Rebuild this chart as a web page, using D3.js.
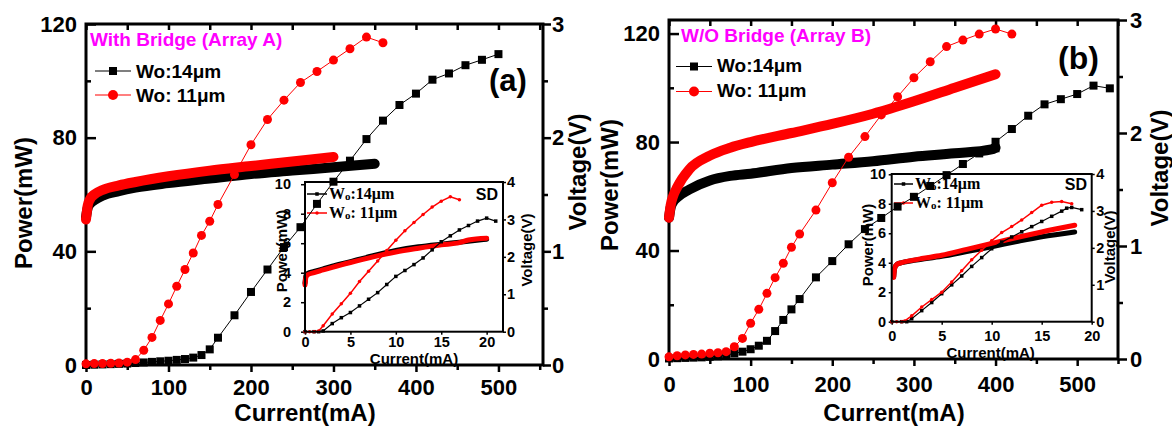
<!DOCTYPE html>
<html>
<head>
<meta charset="utf-8">
<script src="https://cdn.jsdelivr.net/npm/d3@7"></script>
<style>
body { margin: 0; background: #fff; }
svg { display: block; font-family: Arial, "Liberation Sans", sans-serif; font-weight: bold; }
</style>
</head>
<body>
<svg width="1172" height="428"></svg>
<script>
// ---- panel (a): with bridge, main L-I-V (current mA, power mW, voltage V)
var iA14 = [0,10,20,30,40,50,60,70,80,90,100,110,120,130,140,150,160,180,200,220,240,260,280,300,320,340,360,380,400,420,440,460,480,500];
var pA14 = [0,0.1,0.2,0.3,0.4,0.5,0.7,0.9,1.1,1.3,1.5,1.8,2.1,2.6,3.5,5.5,9.6,17.5,25.7,33.6,41.5,48.5,56.7,64.5,71.9,79.5,86,91.5,95.5,100.4,102.6,105.5,107.4,109.4];
var iA11 = [0,10,20,30,40,50,60,70,80,90,100,110,120,130,140,150,160,180,200,220,240,260,280,300,320,340,360];
var pA11 = [0.4,0.5,0.5,0.6,0.7,1.0,1.9,5.2,9.7,15.7,21.5,27.7,33.6,39.4,45.6,50.6,56.5,67,77.5,86.4,93.2,99.4,103.3,107.3,111.3,115.4,113.4];
var viA14 = [0,2,5,10,20,40,60,100,150,200,250,300,350];
var vA14  = [1.30,1.38,1.42,1.45,1.49,1.53,1.56,1.60,1.64,1.68,1.71,1.74,1.77];
var viA11 = [0,2,5,10,20,40,60,100,150,200,250,300];
var vA11  = [1.28,1.40,1.46,1.50,1.54,1.58,1.61,1.66,1.71,1.75,1.79,1.83];

// inset (a): single device (SD)
var sdiA14 = [0,1,1.5,2,3,4,5,6,7,8,9,10,11,12,13,14,15,16,17,18,19,20,21];
var sdpA14 = [0,0,0,0.05,0.55,0.95,1.3,1.75,2.2,2.65,3.2,3.75,4.15,4.55,5.0,5.55,6.1,6.5,6.9,7.2,7.5,7.7,7.5];
var sdiA11 = [0,0.5,1,1.5,2,3,4,5,6,7,8,9,10,11,12,13,14,15,16,17];
var sdpA11 = [0,0,0,0.05,0.4,1.2,1.9,2.6,3.4,4.1,4.8,5.5,6.2,6.85,7.4,7.95,8.45,8.85,9.15,8.95];
var sdviA14 = [0,0.1,0.3,1,2,3,5,7.5,10,12.5,15,17,20];
var sdvA14  = [1.3,1.5,1.56,1.61,1.68,1.75,1.87,2.03,2.17,2.27,2.34,2.39,2.47];
var sdviA11 = [0,0.1,0.3,1,2,3,5,7.5,10,12.5,15,17,18,20];
var sdvA11  = [1.25,1.45,1.52,1.58,1.65,1.72,1.85,2.0,2.13,2.23,2.32,2.38,2.45,2.5];

// ---- panel (b): without bridge
var iB14 = [0,10,20,30,40,50,60,70,80,90,100,110,120,130,140,150,160,180,200,220,240,260,280,300,320,340,360,380,400,400,420,440,460,480,500,520,540];
var pB14 = [0.2,0.3,0.4,0.5,0.6,0.8,1.0,1.4,2.1,2.7,3.6,4.9,6.7,10.3,14.4,18.3,22.1,30.1,36.1,42.3,47.9,52,56.2,59.8,63.8,67.8,71.9,75.8,77.7,80.1,84.8,89.7,93.9,95.8,97.7,100.8,99.8];
var iB11 = [0,10,20,30,40,50,60,70,80,90,100,110,120,130,140,150,160,180,200,220,240,260,280,300,320,340,360,380,400,420];
var pB11 = [0.8,1.2,1.5,1.7,1.8,2.1,2.3,2.7,4.5,7.6,13.2,18.3,24.2,30,35.3,41.2,46.1,54.9,65,74.4,82,90,96.7,103.7,109.6,115.2,117.6,119.8,121.7,119.8];
var viB14 = [0,2,5,10,25,50,75,100,150,200,250,300,350,395,400];
var vB14  = [1.25,1.34,1.39,1.43,1.50,1.58,1.62,1.64,1.69,1.72,1.75,1.79,1.82,1.855,1.87];
var viB11 = [0,2,5,10,25,50,75,100,150,200,250,300,350,400];
var vB11  = [1.25,1.36,1.44,1.52,1.68,1.80,1.87,1.92,2.00,2.08,2.17,2.28,2.40,2.52];

var sdiB14 = [0,1,1.5,2,3,4,5,6,7,8,9,10,11,12,13,14,15,16,17,17.5,18,19];
var sdpB14 = [0,0,0,0.2,0.75,1.3,1.9,2.5,3.1,3.75,4.35,4.95,5.4,5.75,6.1,6.45,6.8,7.15,7.5,7.7,7.75,7.6];
var sdiB11 = [0,0.5,1,1.3,2,3,4,5,6,7,8,9,10,11,12,13,14,15,16,17,18];
var sdpB11 = [0,0,0,0.05,0.4,1.0,1.5,2.0,2.7,3.45,4.2,4.85,5.5,6.05,6.45,6.9,7.4,7.9,8.1,8.15,8.0];
var sdviB14 = [0.2,0.3,0.5,1,2,3,5,7.5,10,12.5,15,18.3];
var sdvB14  = [1.22,1.45,1.55,1.6,1.65,1.69,1.77,1.9,2.03,2.17,2.3,2.43];
var sdviB11 = [0.2,0.3,0.5,1,2,3,5,7.5,10,12.5,15,18.3];
var sdvB11  = [1.2,1.45,1.55,1.6,1.66,1.71,1.8,1.96,2.12,2.28,2.43,2.61];

// ticks
var powerTicks = [0,40,80,120], powerMinor = [20,60,100];
var voltTicks = [0,1,2,3], voltMinor = [0.5,1.5,2.5];
var currentTicks = [0,100,200,300,400,500], currentMinor = [50,150,250,350,450,550];
var sdPowerTicks = [0,2,4,6,8,10], sdVoltTicks = [0,1,2,3,4];
var sdCurrentTicks = [0,5,10,15,20];

var RED = "#ff0000", MAGENTA = "#ff00ff";
var svg = d3.select("svg");
var fmt = d3.format("d");

function axis(g, gen, tx, ty, sw, fs) {
  var a = g.append("g").attr("transform", "translate(" + tx + "," + ty + ")").call(gen);
  a.select(".domain").remove();
  a.attr("font-family", null).attr("font-size", null);
  a.selectAll("line").attr("stroke", "#000").attr("stroke-width", sw);
  a.selectAll("text").attr("fill", "#000").style("font-size", fs + "px");
  return a;
}

function band(g, x, y, xs, ys, color, w) {
  g.append("path")
    .datum(d3.zip(xs, ys))
    .attr("fill", "none").attr("stroke", color).attr("stroke-width", w)
    .attr("stroke-linecap", "round").attr("stroke-linejoin", "round")
    .attr("d", d3.line().curve(d3.curveMonotoneX).x(function(d) { return x(d[0]); }).y(function(d) { return y(d[1]); }));
}

function series(g, x, y, xs, ys, color, shape, s, lw) {
  var pts = d3.zip(xs, ys);
  g.append("path").datum(pts)
    .attr("fill", "none").attr("stroke", color).attr("stroke-width", lw)
    .attr("d", d3.line().x(function(d) { return x(d[0]); }).y(function(d) { return y(d[1]); }));
  marker(g, pts.map(function(d) { return [x(d[0]), y(d[1])]; }), color, shape, s);
}

function marker(g, pts, color, shape, s) {
  if (shape == "square") {
    g.selectAll(null).data(pts).enter().append("rect")
      .attr("x", function(d) { return d[0] - s / 2; }).attr("y", function(d) { return d[1] - s / 2; })
      .attr("width", s).attr("height", s).attr("fill", color);
  } else {
    g.selectAll(null).data(pts).enter().append("circle")
      .attr("cx", function(d) { return d[0]; }).attr("cy", function(d) { return d[1]; })
      .attr("r", s / 2).attr("fill", color);
  }
}

function vtext(g, txt, bx, cy, fs) {
  g.append("text").attr("transform", "translate(" + bx + "," + cy + ") rotate(-90)")
    .attr("text-anchor", "middle").style("font-size", fs + "px").text(txt);
}

function inset(p, d) {
  var g = svg.append("g");
  var x = d3.scaleLinear().domain([0, p.iMax]).range([p.left, p.right]);
  var yP = d3.scaleLinear().domain([0, p.pMax]).range([p.bottom, p.top]);
  var yV = d3.scaleLinear().domain([0, 4]).range([p.bottom, p.top]);

  axis(g, d3.axisLeft(yP).tickValues(sdPowerTicks).tickSize(p.tl).tickPadding(p.pl).tickFormat(fmt), p.left, 0, 1.5, 14.5);
  axis(g, d3.axisRight(yV).tickValues(sdVoltTicks).tickSize(3).tickPadding(p.pr).tickFormat(fmt), p.right, 0, 1.5, 14.5);
  axis(g, d3.axisBottom(x).tickValues(sdCurrentTicks).tickSize(3).tickPadding(p.pb).tickFormat(fmt), 0, p.bottom, 1.5, 14.5);

  band(g, x, yV, d.vi14, d.v14, "#000", 5);
  band(g, x, yV, d.vi11, d.v11, RED, 5);
  series(g, x, yP, d.i14, d.p14, "#000", "square", 3.5, 1.2);
  series(g, x, yP, d.i11, d.p11, RED, "circle", 3.5, 1.5);

  g.append("rect").attr("x", p.left).attr("y", p.top)
    .attr("width", p.right - p.left).attr("height", p.bottom - p.top)
    .attr("fill", "none").attr("stroke", "#000").attr("stroke-width", 2);

  g.append("text").attr("x", p.sdX).attr("y", p.sdY).attr("text-anchor", "end").style("font-size", "16px").text("SD");
  g.append("text").attr("x", (p.left + p.right) / 2 + p.xlDx).attr("y", p.xlY).attr("text-anchor", "middle").style("font-size", "15px").text("Current(mA)");
  vtext(g, "Power(mW)", p.plX, p.plY, 15);
  vtext(g, "Voltage(V)", p.vlX, p.vlY, 15);

  // legend
  [["#000", "square", ":14μm"], [RED, "circle", ": 11μm"]].forEach(function(l, k) {
    var ly = p.legY[k];
    g.append("line").attr("x1", p.legX[0]).attr("x2", p.legX[1]).attr("y1", ly - 5).attr("y2", ly - 5)
      .attr("stroke", l[0]).attr("stroke-width", 1.5);
    marker(g, [[(p.legX[0] + p.legX[1]) / 2, ly - 5]], l[0], l[1], 3.5);
    var t = g.append("text").attr("x", p.legX[1] + 2).attr("y", ly)
      .style("font-family", "'Liberation Serif', 'Times New Roman', serif").style("font-size", "16px");
    t.append("tspan").text("W");
    t.append("tspan").style("font-size", "11px").attr("dy", 1).text("o");
    t.append("tspan").attr("dy", -1).text(l[2]);
  });
}

function panel(p, d, sd) {
  var g = svg.append("g");
  var x = d3.scaleLinear().domain([0, p.iMax]).range([p.left, p.right]);
  var yP = d3.scaleLinear().domain([0, p.pMax]).range([p.bottom, p.top]);
  var yV = d3.scaleLinear().domain([0, 3]).range([p.bottom, p.top]);

  axis(g, d3.axisLeft(yP).tickValues(powerMinor).tickSize(-5).tickFormat(""), p.left, 0, 2.5, 22);
  axis(g, d3.axisLeft(yP).tickValues(powerTicks).tickSize(-10).tickPadding(9).tickFormat(fmt), p.left, 0, 2.5, 22);
  axis(g, d3.axisRight(yV).tickValues(voltMinor).tickSize(5).tickFormat(""), p.right, 0, 2.5, 22);
  axis(g, d3.axisRight(yV).tickValues(voltTicks).tickSize(p.tr).tickPadding(p.pr).tickFormat(fmt), p.right, 0, 2.5, 22);
  axis(g, d3.axisBottom(x).tickValues(currentMinor).tickSize(5).tickFormat(""), 0, p.bottom, 2.5, 22);
  axis(g, d3.axisBottom(x).tickValues(currentTicks).tickSize(7).tickPadding(p.pb).tickFormat(fmt), 0, p.bottom, 2.5, 22);
  axis(g, d3.axisTop(x).tickValues(currentMinor.concat(currentTicks)).tickSize(-6).tickFormat(""), 0, p.top, 2.5, 22);

  g.append("rect").attr("x", p.left).attr("y", p.top)
    .attr("width", p.right - p.left).attr("height", p.bottom - p.top)
    .attr("fill", "none").attr("stroke", "#000").attr("stroke-width", 3);

  g.append("text").attr("x", p.xlX).attr("y", 421).attr("text-anchor", "middle").style("font-size", "24px").text("Current(mA)");
  vtext(g, "Power(mW)", p.plX, p.plY, 24);
  vtext(g, "Voltage(V)", p.vlX, p.vlY, 24);

  inset(p.inset, sd);

  var gd = svg.append("g");
  band(gd, x, yV, d.vi14, d.v14, "#000", 10);
  band(gd, x, yV, d.vi11, d.v11, RED, 10);
  series(gd, x, yP, d.i14, d.p14, "#000", "square", 8, 1);
  series(gd, x, yP, d.i11, d.p11, RED, "circle", 9, 1);

  gd.append("text").attr("x", p.titleX).attr("y", p.titleY).attr("fill", MAGENTA).style("font-size", "19px").text(p.title);
  gd.append("text").attr("x", p.tagX).attr("y", p.tagY).style("font-size", p.tagSize + "px").text(p.tag);

  [["#000", "square", 8, "Wo:14μm"], [RED, "circle", 10, "Wo: 11μm"]].forEach(function(l, k) {
    var ly = p.legY[k];
    gd.append("line").attr("x1", p.legX[0]).attr("x2", p.legX[1]).attr("y1", ly - p.legOff).attr("y2", ly - p.legOff)
      .attr("stroke", l[0]).attr("stroke-width", 1.2);
    marker(gd, [[(p.legX[0] + p.legX[1]) / 2, ly - p.legOff]], l[0], l[1], l[2]);
    gd.append("text").attr("x", p.legX[1] + 5).attr("y", ly).style("font-size", "19px").text(l[3]);
  });
}

panel({
  left: 86, right: 543, top: 24, bottom: 365, iMax: 554, pMax: 120,
  tr: 8, pr: 1, pb: 7.4,
  xlX: 305, plX: 32, plY: 203, vlX: 586, vlY: 172,
  title: "With Bridge (Array A)", titleX: 90, titleY: 46,
  tag: "(a)", tagX: 489, tagY: 91, tagSize: 31,
  legX: [95, 131], legY: [78, 102], legOff: 7,
  inset: { left: 305, right: 503, top: 182, bottom: 331.7, iMax: 21.8, pMax: 10.15,
    tl: 4, pl: 10, pr: 1, pb: 2.5, sdX: 498, sdY: 200, xlDx: 10, xlY: 364,
    plX: 287, plY: 251, vlX: 532, vlY: 250, legX: [307, 327], legY: [199, 218] }
}, { i14: iA14, p14: pA14, i11: iA11, p11: pA11, vi14: viA14, v14: vA14, vi11: viA11, v11: vA11 },
   { i14: sdiA14, p14: sdpA14, i11: sdiA11, p11: sdpA11, vi14: sdviA14, v14: sdvA14, vi11: sdviA11, v11: sdvA11 });

panel({
  left: 669, right: 1118, top: 20, bottom: 359, iMax: 550, pMax: 125,
  tr: 9, pr: 3, pb: 10.4,
  xlX: 894, plX: 618, plY: 185, vlX: 1168, vlY: 168,
  title: "W/O Bridge (Array B)", titleX: 681, titleY: 42,
  tag: "(b)", tagX: 1058, tagY: 69, tagSize: 32,
  legX: [676, 712], legY: [72, 97], legOff: 5.5,
  inset: { left: 891.7, right: 1091.7, top: 174, bottom: 321.7, iMax: 20, pMax: 10.02,
    tl: 3, pl: 2.5, pr: 1.5, pb: 6, sdX: 1087, sdY: 190, xlDx: -1, xlY: 358,
    plX: 873, plY: 245, vlX: 1115, vlY: 247, legX: [894, 913], legY: [189, 208] }
}, { i14: iB14, p14: pB14, i11: iB11, p11: pB11, vi14: viB14, v14: vB14, vi11: viB11, v11: vB11 },
   { i14: sdiB14, p14: sdpB14, i11: sdiB11, p11: sdpB11, vi14: sdviB14, v14: sdvB14, vi11: sdviB11, v11: sdvB11 });
</script>
</body>
</html>
